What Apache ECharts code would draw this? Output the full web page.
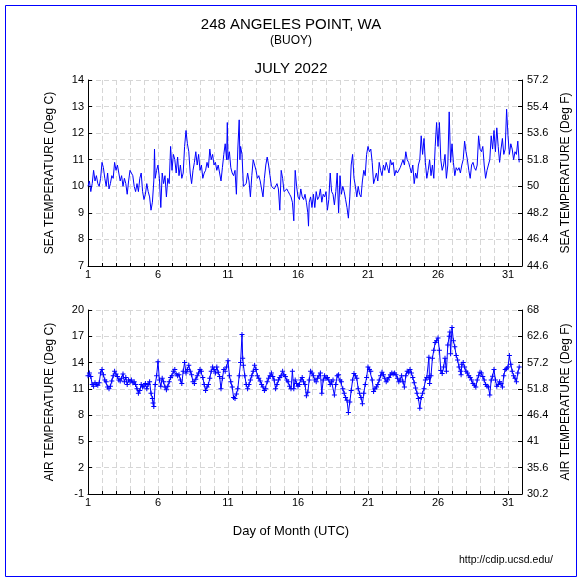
<!DOCTYPE html>
<html>
<head>
<meta charset="utf-8">
<script src="https://cdn.jsdelivr.net/npm/echarts@6/dist/echarts.min.js"></script>
<style>html,body{margin:0;padding:0;background:#fff}#c{width:582px;height:581px}</style>
</head>
<body>
<div id="c"></div>
<script>
// ---- data (day of month, UTC) ----
const seaDays = [1.0,1.1,1.2,1.3,1.4,1.5,1.6,1.7,1.8,1.9,2.0,2.1,2.2,2.3,2.4,2.5,2.6,2.7,2.8,2.9,3.0,3.1,3.2,3.3,3.4,3.5,3.6,3.7,3.8,3.9,4.0,4.1,4.2,4.3,4.4,4.5,4.6,4.7,4.8,4.9,5.0,5.1,5.2,5.3,5.4,5.5,5.6,5.7,5.75,5.8,5.9,6.0,6.1,6.2,6.3,6.4,6.5,6.6,6.7,6.8,6.9,7.0,7.1,7.2,7.3,7.4,7.5,7.6,7.7,7.8,7.9,8.0,8.1,8.2,8.3,8.4,8.5,8.6,8.7,8.8,8.9,9.0,9.1,9.2,9.3,9.4,9.5,9.6,9.7,9.8,9.9,10.0,10.1,10.2,10.3,10.4,10.5,10.6,10.7,10.8,10.9,10.95,11.0,11.1,11.2,11.3,11.4,11.5,11.6,11.7,11.8,11.85,11.9,12.0,12.1,12.2,12.3,12.4,12.5,12.6,12.7,12.8,12.9,13.0,13.1,13.2,13.3,13.4,13.5,13.6,13.7,13.8,13.9,14.0,14.1,14.2,14.3,14.4,14.5,14.6,14.7,14.8,14.9,15.0,15.1,15.2,15.3,15.4,15.5,15.6,15.7,15.8,15.9,16.0,16.1,16.2,16.3,16.4,16.5,16.6,16.7,16.75,16.8,16.9,17.0,17.1,17.2,17.3,17.4,17.5,17.6,17.7,17.8,17.9,18.0,18.1,18.2,18.3,18.4,18.5,18.6,18.7,18.8,18.9,19.0,19.1,19.2,19.3,19.4,19.5,19.6,19.7,19.8,19.9,20.0,20.1,20.2,20.3,20.4,20.5,20.6,20.7,20.8,20.9,21.0,21.1,21.2,21.3,21.4,21.5,21.6,21.7,21.8,21.9,22.0,22.1,22.2,22.3,22.4,22.5,22.6,22.7,22.8,22.9,23.0,23.1,23.2,23.3,23.4,23.5,23.6,23.7,23.8,23.9,24.0,24.1,24.2,24.3,24.4,24.5,24.6,24.7,24.8,24.9,25.0,25.1,25.2,25.3,25.4,25.5,25.6,25.7,25.8,25.9,26.0,26.1,26.2,26.3,26.4,26.5,26.6,26.7,26.8,26.9,27.0,27.1,27.2,27.3,27.4,27.5,27.6,27.7,27.8,27.9,28.0,28.1,28.2,28.3,28.4,28.5,28.6,28.7,28.8,28.9,29.0,29.1,29.2,29.3,29.4,29.5,29.6,29.7,29.8,29.9,30.0,30.1,30.2,30.3,30.4,30.5,30.6,30.7,30.8,30.9,31.0,31.1,31.2,31.3,31.4,31.5,31.6,31.7,31.8];
const seaTemp = [10.0,10.2,9.8,10.1,10.6,10.2,10.4,10.1,10.0,10.3,10.9,10.7,10.3,10.0,10.5,9.9,10.1,10.4,10.3,10.9,10.6,10.8,10.5,10.2,10.4,10.0,10.3,10.1,9.7,10.2,10.6,10.5,10.4,10.0,9.8,10.1,9.8,10.3,10.5,9.8,9.5,9.7,10.1,9.8,9.6,9.1,9.4,10.2,11.4,10.3,10.6,10.8,10.3,9.2,10.5,10.1,10.4,9.6,10.3,10.1,11.5,10.6,11.2,11.0,10.5,11.1,10.4,10.8,10.3,10.5,11.5,12.1,11.6,11.3,10.5,10.1,10.6,10.9,11.3,10.8,11.2,10.6,10.8,10.3,10.5,10.6,10.9,10.7,11.4,11.0,11.2,10.8,10.9,10.6,10.8,10.5,10.2,10.7,11.2,11.6,11.0,12.4,11.0,11.3,10.7,10.5,10.4,10.6,9.7,11.4,12.5,11.0,11.5,11.2,10.0,10.0,10.1,10.5,10.2,9.6,10.4,11.0,10.8,10.6,10.3,10.4,10.2,10.2,9.6,10.3,10.8,11.1,10.8,10.4,10.0,10.0,9.9,9.9,10.1,9.9,9.1,10.6,10.3,9.8,9.8,9.9,9.8,9.7,9.6,9.4,8.7,10.6,10.0,9.6,9.5,9.9,9.6,9.5,9.7,9.4,9.0,8.5,9.4,9.6,9.2,9.7,9.2,9.8,9.5,9.6,9.9,9.4,9.7,9.6,9.8,9.1,9.5,10.5,9.8,9.7,9.3,9.8,10.5,9.0,10.4,9.7,10.0,9.8,9.5,9.2,8.8,9.6,10.8,11.2,10.3,10.0,9.6,10.0,9.7,9.6,10.2,10.6,10.4,11.2,11.5,11.3,11.4,10.9,10.1,10.3,10.5,10.2,10.9,10.6,10.4,10.8,10.6,10.9,10.7,10.5,11.0,10.8,10.9,10.4,10.6,10.5,10.5,10.7,10.7,11.0,10.8,11.3,11.0,10.9,10.7,10.5,10.8,10.1,10.5,10.3,10.8,11.0,11.9,11.2,11.8,10.9,10.3,10.6,11.0,10.4,10.8,10.3,11.5,12.4,11.5,12.4,11.0,10.6,10.8,11.2,10.3,10.8,12.8,10.9,11.6,10.9,10.4,10.7,10.6,10.7,10.5,10.8,11.0,11.7,11.3,11.0,10.6,10.3,10.8,10.9,10.7,10.6,10.8,11.9,11.4,11.3,11.5,10.8,10.3,10.6,10.8,11.0,11.9,11.4,12.1,11.3,12.2,11.5,10.9,11.4,11.8,11.2,11.4,12.9,11.9,11.2,11.6,11.4,11.0,11.3,11.2,11.7,10.9];

const airDays = [1.0,1.1,1.2,1.3,1.4,1.5,1.6,1.7,1.8,1.9,2.0,2.1,2.2,2.3,2.4,2.5,2.6,2.7,2.8,2.9,3.0,3.1,3.2,3.3,3.4,3.5,3.6,3.7,3.8,3.9,4.0,4.1,4.2,4.3,4.4,4.5,4.6,4.7,4.8,4.9,5.0,5.1,5.2,5.3,5.4,5.5,5.6,5.65,5.7,5.8,5.9,6.0,6.1,6.2,6.3,6.4,6.5,6.6,6.7,6.8,6.9,7.0,7.1,7.2,7.3,7.4,7.5,7.6,7.7,7.8,7.9,8.0,8.1,8.2,8.3,8.4,8.5,8.6,8.7,8.8,8.9,9.0,9.1,9.2,9.3,9.4,9.5,9.6,9.7,9.8,9.9,10.0,10.1,10.2,10.3,10.4,10.5,10.6,10.7,10.8,10.9,11.0,11.1,11.2,11.3,11.4,11.5,11.6,11.7,11.8,11.9,12.0,12.05,12.1,12.2,12.3,12.4,12.5,12.6,12.7,12.8,12.9,13.0,13.1,13.2,13.3,13.4,13.5,13.6,13.7,13.8,13.9,14.0,14.1,14.2,14.3,14.4,14.5,14.6,14.7,14.8,14.9,15.0,15.1,15.2,15.3,15.4,15.5,15.6,15.7,15.8,15.9,16.0,16.1,16.2,16.3,16.4,16.5,16.6,16.7,16.8,16.9,17.0,17.1,17.2,17.3,17.4,17.5,17.6,17.7,17.8,17.9,18.0,18.1,18.2,18.3,18.4,18.5,18.6,18.7,18.8,18.9,19.0,19.1,19.2,19.3,19.4,19.5,19.6,19.7,19.8,19.9,20.0,20.1,20.2,20.3,20.4,20.5,20.6,20.7,20.8,20.9,21.0,21.1,21.2,21.3,21.4,21.5,21.6,21.7,21.8,21.9,22.0,22.1,22.2,22.3,22.4,22.5,22.6,22.7,22.8,22.9,23.0,23.1,23.2,23.3,23.4,23.5,23.6,23.7,23.8,23.9,24.0,24.1,24.2,24.3,24.4,24.5,24.6,24.7,24.8,24.9,25.0,25.1,25.2,25.3,25.35,25.4,25.5,25.6,25.7,25.8,25.9,26.0,26.1,26.2,26.3,26.4,26.5,26.6,26.7,26.8,26.85,26.9,27.0,27.1,27.2,27.3,27.4,27.5,27.6,27.65,27.7,27.8,27.9,28.0,28.1,28.2,28.3,28.4,28.5,28.6,28.7,28.8,28.9,29.0,29.1,29.2,29.3,29.4,29.5,29.6,29.7,29.8,29.9,30.0,30.1,30.2,30.3,30.4,30.5,30.6,30.7,30.8,30.9,31.0,31.1,31.2,31.3,31.4,31.5,31.6,31.7,31.8];
const airTemp = [12.5,12.8,12.4,11.5,11.3,11.7,11.5,11.4,11.7,12.8,13.2,12.6,12.0,11.8,11.2,11.0,11.3,11.9,12.5,13.0,12.7,12.4,12.0,11.9,12.2,12.7,11.8,12.3,11.5,12.0,11.8,12.0,11.7,11.8,11.5,11.0,10.5,10.8,11.5,11.2,11.3,11.6,11.0,11.5,11.8,10.5,9.9,9.4,9.0,11.5,12.5,14.1,12.0,11.3,12.2,11.8,11.2,10.9,11.3,11.8,12.3,12.5,13.0,13.2,12.7,12.5,12.6,12.0,11.6,13.0,14.0,12.8,13.2,13.7,13.0,12.6,11.8,11.6,12.1,12.5,12.8,13.2,13.0,12.3,11.5,10.8,11.2,11.5,12.2,13.0,13.5,13.2,12.8,13.5,12.9,12.4,11.0,12.2,13.2,13.0,13.5,14.2,12.5,11.8,11.2,10.0,9.9,10.4,11.0,12.5,14.0,17.2,14.5,13.7,12.5,11.5,11.0,11.5,12.0,12.5,13.0,13.7,13.2,12.5,12.2,11.9,11.5,11.2,10.8,11.0,11.8,12.2,12.5,12.8,12.4,12.0,11.0,11.5,12.0,12.3,12.5,13.0,12.6,12.4,12.0,11.8,11.3,11.0,13.0,11.0,12.0,11.6,11.3,11.5,12.0,12.3,11.8,11.5,10.2,10.6,12.0,13.0,12.8,12.5,12.0,11.8,12.2,12.5,12.8,10.5,12.0,12.5,12.2,12.3,12.0,11.5,11.8,12.0,10.3,11.5,12.5,12.6,12.0,11.8,11.0,10.5,10.0,9.7,8.3,9.5,10.8,12.0,12.75,12.5,12.2,11.0,10.5,10.0,9.3,10.5,11.5,12.3,13.5,13.2,13.0,12.0,10.7,11.0,11.2,11.5,12.0,12.5,12.9,12.6,12.2,11.8,12.0,12.3,12.6,12.8,12.7,12.8,12.6,12.2,11.8,12.0,12.5,11.8,11.2,12.5,13.0,12.9,13.2,12.8,12.3,11.7,11.1,10.5,9.9,8.8,10.0,10.5,11.0,12.0,12.3,12.3,14.6,11.6,12.5,14.5,15.4,16.3,16.5,16.8,15.4,13.1,12.75,13.5,14.5,13.0,16.0,17.0,17.5,15.0,18.0,16.5,15.8,14.8,14.3,13.5,13.0,12.6,13.8,14.0,13.5,13.0,12.8,12.5,12.3,12.0,11.6,11.4,11.2,12.0,12.5,12.9,12.8,12.4,12.0,11.5,11.3,11.2,10.3,12.0,12.45,13.2,12.0,11.3,11.5,11.8,11.6,11.2,12.5,13.2,13.3,13.5,14.8,13.8,13.0,12.5,12.2,11.8,12.8,13.5];

const dayTicks = [1, 6, 11, 16, 21, 26, 31];
const seaTicksC = [7, 8, 9, 10, 11, 12, 13, 14];
const airTicksC = [-1, 2, 5, 8, 11, 14, 17, 20];

// ---- chart ----
const FONT = 'Liberation Sans, Arial, Helvetica, sans-serif';
const zip = (a, b) => a.map((d, i) => [d, b[i]]);
const toF = v => { const f = Math.round((v * 1.8 + 32) * 10) / 10; return String(f); };
const dash = { color: '#d6d6d6', width: 1, type: [5, 3] };
const PLUS = 'path://M2,0H3V2H5V3H3V5H2V3H0V2H2Z';

function xAxis(gi) {
  return {
    type: 'value', gridIndex: gi, min: 1, max: 32, interval: 1,
    axisLine: { show: true, onZero: false, lineStyle: { color: '#000', width: 1 } },
    axisTick: { show: true, inside: true, length: 3, lineStyle: { color: '#000' } },
    axisLabel: {
      show: true, margin: 3, color: '#000', fontSize: 11, fontFamily: FONT,
      formatter: v => dayTicks.indexOf(v) >= 0 ? String(v) : ''
    },
    splitLine: { show: true, lineStyle: dash }
  };
}
function yAxis(gi, pos, lo, hi, ticks, name, conv, split) {
  return {
    type: 'value', gridIndex: gi, position: pos, min: lo, max: hi,
    name: name, nameLocation: 'middle', nameGap: 32, nameRotate: 90,
    nameTextStyle: { color: '#000', fontSize: 12, fontFamily: FONT },
    axisLine: { show: true, onZero: false, lineStyle: { color: '#000', width: 1 } },
    axisTick: { show: true, inside: true, length: 4, customValues: ticks, lineStyle: { color: '#000' } },
    axisLabel: { show: true, margin: pos === 'left' ? 4 : 5, customValues: ticks, color: '#000', fontSize: 11, fontFamily: FONT,
      formatter: v => conv(v) },
    splitLine: { show: split, lineStyle: dash }
  };
}

const chart = echarts.init(document.getElementById('c'), null, { renderer: 'canvas', width: 582, height: 581 });
chart.setOption({
  animation: false,
  backgroundColor: '#fff',
  title: [
    { text: '248 ANGELES POINT, WA', left: 'center', top: 17, padding: 0, textStyle: { fontSize: 15, fontWeight: 'normal', color: '#000', fontFamily: FONT, lineHeight: 15 } },
    { text: '(BUOY)', left: 'center', top: 35, padding: 0, textStyle: { fontSize: 12, fontWeight: 'normal', color: '#000', fontFamily: FONT, lineHeight: 12 } },
    { text: 'JULY 2022', left: 'center', top: 61, padding: 0, textStyle: { fontSize: 15, fontWeight: 'normal', color: '#000', fontFamily: FONT, lineHeight: 15 } },
    { text: 'Day of Month (UTC)', left: 'center', top: 525, padding: 0, textStyle: { fontSize: 13, fontWeight: 'normal', color: '#000', fontFamily: FONT, lineHeight: 13 } },
    { text: 'http://cdip.ucsd.edu/', left: 459, top: 555, padding: 0, textStyle: { fontSize: 10.5, fontWeight: 'normal', color: '#000', fontFamily: FONT, lineHeight: 11 } }
  ],
  graphic: [
    { type: 'rect', shape: { x: 5.5, y: 5.5, width: 571, height: 571 }, style: { fill: null, stroke: '#0000ff', lineWidth: 1 }, silent: true, z: 100 }
  ],
  grid: [
    { left: 88, top: 80, width: 434, height: 186 },
    { left: 88, top: 310, width: 434, height: 184 }
  ],
  xAxis: [xAxis(0), xAxis(1)],
  yAxis: [
    yAxis(0, 'left', 7, 14, seaTicksC, 'SEA TEMPERATURE (Deg C)', v => String(v), true),
    yAxis(0, 'right', 7, 14, seaTicksC, 'SEA TEMPERATURE (Deg F)', toF, false),
    yAxis(1, 'left', -1, 20, airTicksC, 'AIR TEMPERATURE (Deg C)', v => String(v), true),
    yAxis(1, 'right', -1, 20, airTicksC, 'AIR TEMPERATURE (Deg F)', toF, false)
  ],
  series: [
    {
      type: 'line', xAxisIndex: 0, yAxisIndex: 0, data: zip(seaDays, seaTemp),
      showSymbol: false, symbol: 'none', lineStyle: { color: '#0000ff', width: 1 }, z: 5
    },
    {
      type: 'line', xAxisIndex: 1, yAxisIndex: 2, data: zip(airDays, airTemp),
      symbol: PLUS, symbolSize: 5, showSymbol: true, showAllSymbol: true,
      itemStyle: { color: '#0000ff' }, lineStyle: { color: '#0000ff', width: 1 }, z: 5
    }
  ]
});
</script>
</body>
</html>
